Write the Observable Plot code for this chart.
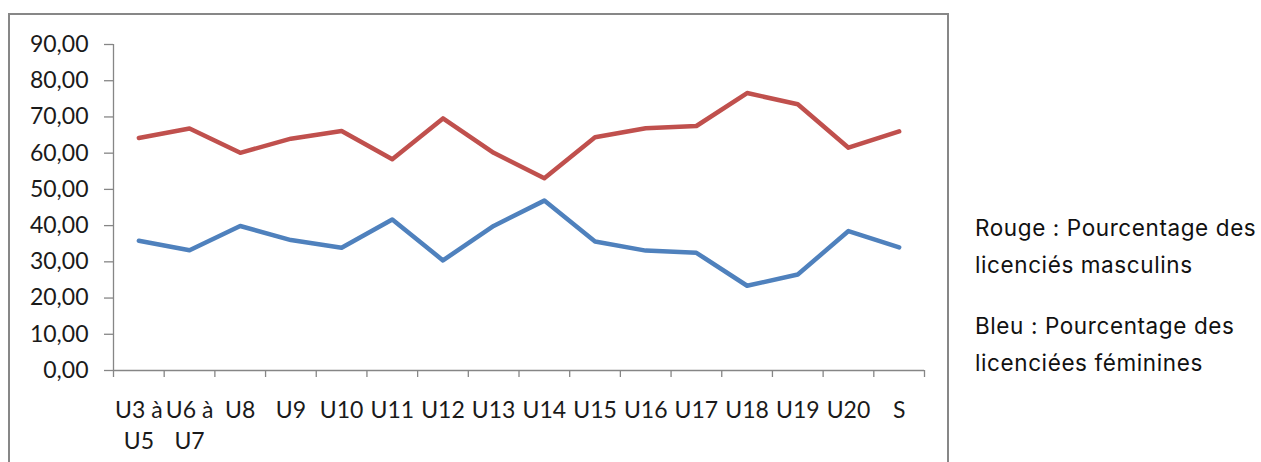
<!DOCTYPE html>
<html>
<head>
<meta charset="utf-8">
<script src="https://cdn.jsdelivr.net/npm/d3@7"></script>
<script src="https://cdn.jsdelivr.net/npm/@observablehq/plot@0.6"></script>
<style>
  html, body { margin: 0; padding: 0; background: #fff; overflow: hidden; }
  #page { position: relative; width: 1261px; height: 462px; overflow: hidden; }
  #frame { position: absolute; left: 8px; top: 13px; width: 941px; height: 470px; border: 2px solid #878787; box-sizing: border-box; }
  #chart { position: absolute; left: 0; top: 0; }
  #legend { position: absolute; left: 975px; top: 209px; font-family: Inter, "Open Sans", sans-serif; font-size: 22.5px; letter-spacing: 0.6px; color: #111; white-space: nowrap; line-height: 37px; }
  #legend p { margin: 0 0 24px 0; }
</style>
</head>
<body>
<div id="page">
  <div id="frame"></div>
  <div id="chart"></div>
  <div id="legend">
    <p>Rouge : Pourcentage des<br>licenciés masculins</p>
    <p>Bleu : Pourcentage des<br>licenciées féminines</p>
  </div>
</div>
<script>
const categories = ["U3 à\nU5", "U6 à\nU7", "U8", "U9", "U10", "U11", "U12", "U13", "U14", "U15", "U16", "U17", "U18", "U19", "U20", "S"];
const masculins = [64.2, 66.8, 60.1, 64.0, 66.1, 58.3, 69.6, 60.1, 53.1, 64.4, 66.9, 67.5, 76.6, 73.5, 61.5, 66.0];
const feminines = [35.8, 33.2, 39.9, 36.0, 33.9, 41.7, 30.4, 39.9, 46.9, 35.6, 33.1, 32.5, 23.4, 26.5, 38.5, 34.0];
const yTicks = [0, 10, 20, 30, 40, 50, 60, 70, 80, 90];

const axisColor = "#868686";
const boundaries = d3.range(categories.length + 1);
const pos = (d, i) => i + 0.5;

const chart = Plot.plot({
  width: 960,
  height: 462,
  marginLeft: 113,
  marginRight: 36,
  marginTop: 44,
  marginBottom: 92,
  style: { background: "none", fontFamily: "Lato, sans-serif", fontSize: "23px", color: "#1a1a1a", overflow: "visible" },
  x: { type: "linear", domain: [0, categories.length] },
  y: { domain: [0, 90] },
  marks: [
    Plot.ruleY([0], { x1: 0, x2: categories.length, stroke: axisColor, strokeWidth: 1.3 }),
    Plot.ruleX([0], { y1: 0, y2: 90, stroke: axisColor, strokeWidth: 1.3 }),
    Plot.axisY({ ticks: yTicks, tickSize: 9, tickPadding: 16, tickFormat: d => d.toFixed(2).replace(".", ","), stroke: axisColor, strokeWidth: 1.3, label: null, fill: "#1a1a1a" }),
    Plot.axisX({ ticks: boundaries, tickSize: 7, tickFormat: () => "", stroke: axisColor, strokeWidth: 1.3, label: null }),
    Plot.text(categories, { x: pos, text: d => d, frameAnchor: "bottom", lineAnchor: "top", dy: 26, lineHeight: 1.33, fill: "#1a1a1a" }),
    Plot.line(masculins, { x: pos, y: d => d, stroke: "#C0504D", strokeWidth: 4.5, strokeLinejoin: "round", strokeLinecap: "round" }),
    Plot.line(feminines, { x: pos, y: d => d, stroke: "#4F81BD", strokeWidth: 4.5, strokeLinejoin: "round", strokeLinecap: "round" })
  ]
});
document.getElementById("chart").appendChild(chart);
</script>
</body>
</html>
